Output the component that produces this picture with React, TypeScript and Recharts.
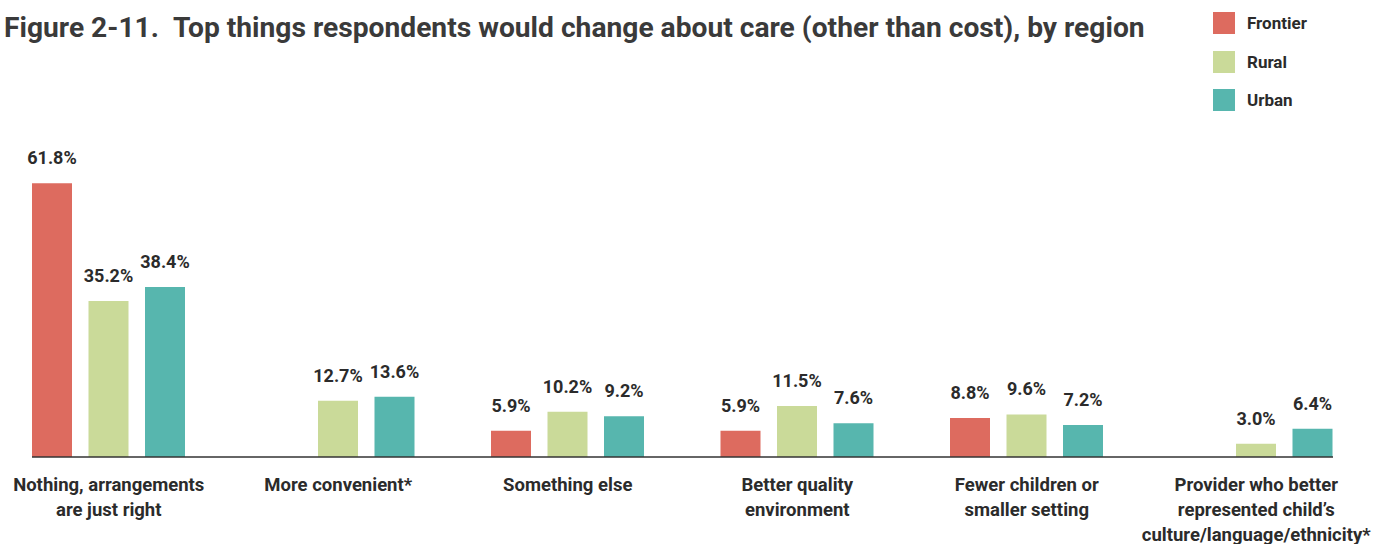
import { BarChart, Bar, XAxis, YAxis, Legend, LabelList } from "recharts";

const categories = [
  "Nothing, arrangements\nare just right",
  "More convenient*",
  "Something else",
  "Better quality\nenvironment",
  "Fewer children or\nsmaller setting",
  "Provider who better\nrepresented child\u2019s\nculture/language/ethnicity*",
];

const frontier = [61.8, null, 5.9, 5.9, 8.8, null];
const rural = [35.2, 12.7, 10.2, 11.5, 9.6, 3.0];
const urban = [38.4, 13.6, 9.2, 7.6, 7.2, 6.4];

const series = [
  { key: "frontier", name: "Frontier", color: "#DD6B5F" },
  { key: "rural", name: "Rural", color: "#CADA99" },
  { key: "urban", name: "Urban", color: "#57B6AE" },
];

const data = categories.map((c, i) => ({
  category: c,
  frontier: frontier[i],
  rural: rural[i],
  urban: urban[i],
}));

const FONT = "Roboto, 'Noto Sans', sans-serif";
const TEXT = "#2b2b2b";

function CategoryTick(props: any) {
  const { x, y, payload } = props;
  const lines = String(payload.value).split("\n");
  return (
    <text
      x={x}
      y={y}
      textAnchor="middle"
      fill={TEXT}
      fontFamily={FONT}
      fontWeight={700}
      fontSize={18.5}
    >
      {lines.map((line, i) => (
        <tspan key={i} x={x} y={y + 26 + i * 25}>
          {line}
        </tspan>
      ))}
    </text>
  );
}

function LegendBox(props: any) {
  const items = props.payload || [];
  return (
    <div style={{ fontFamily: FONT }}>
      {items.map((item: any) => (
        <div
          key={item.value}
          style={{ display: "flex", alignItems: "center", height: 22, marginBottom: 16.5 }}
        >
          <span style={{ width: 22, height: 22, background: item.color, display: "inline-block" }} />
          <span style={{ marginLeft: 12, fontSize: 17, fontWeight: 700, color: TEXT }}>
            {item.value}
          </span>
        </div>
      ))}
    </div>
  );
}

const fmt = (v: any) => (v == null ? "" : `${Number(v).toFixed(1)}%`);

export default function App() {
  return (
    <div style={{ position: "absolute", left: 0, top: 0, width: 1385, height: 544, background: "#fff" }}>
      <div
        style={{
          position: "absolute",
          left: 4,
          top: 11,
          fontFamily: FONT,
          fontWeight: 700,
          fontSize: 28.2,
          lineHeight: "normal",
          color: "#3a3a3a",
          whiteSpace: "nowrap",
        }}
      >
        Figure 2-11.&nbsp;&nbsp;Top things respondents would change about care (other than cost), by region
      </div>
      <BarChart
        width={1385}
        height={544}
        data={data}
        margin={{ top: 147, right: 52, bottom: 7, left: 32 }}
        barSize={40}
        barGap={16.5}
      >
        <XAxis
          dataKey="category"
          height={80}
          padding={{ left: -38, right: -38 }}
          tickLine={false}
          axisLine={{ stroke: "#333", strokeWidth: 1.5 }}
          tick={<CategoryTick />}
          interval={0}
        />
        <YAxis hide domain={[0, 70]} />
        <Legend
          layout="horizontal"
          verticalAlign="middle"
          align="center"
          content={<LegendBox />}
          wrapperStyle={{ position: "absolute", top: 12, left: 1213, width: 150 }}
        />
        {series.map((s) => (
          <Bar key={s.key} dataKey={s.key} name={s.name} fill={s.color} isAnimationActive={false}>
            <LabelList
              dataKey={s.key}
              position="top"
              offset={19}
              formatter={fmt}
              fill={TEXT}
              fontFamily={FONT}
              fontWeight={700}
              fontSize={18}
            />
          </Bar>
        ))}
      </BarChart>
    </div>
  );
}
